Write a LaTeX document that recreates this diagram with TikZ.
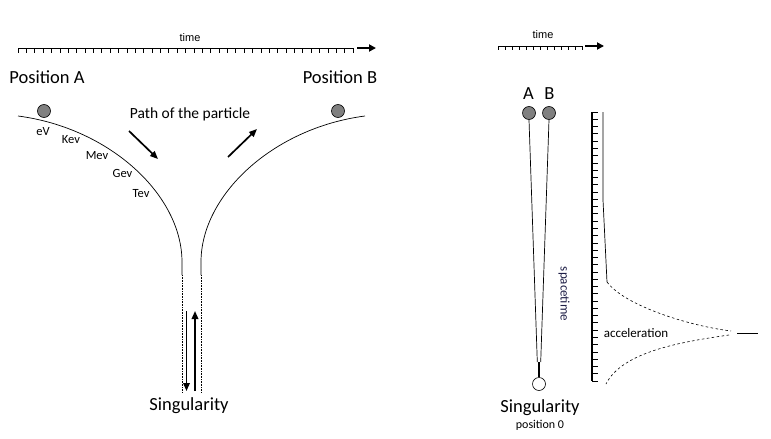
\documentclass[tikz,border=0pt]{standalone}
\usepackage{fontspec}
\setmainfont{Carlito}
\newfontfamily\arialf{Liberation Sans}
\usetikzlibrary{arrows.meta}
\definecolor{ballgray}{RGB}{128,128,128}
\definecolor{txtnavy}{RGB}{30,30,70}
\begin{document}
\begin{tikzpicture}[x=1pt,y=-1pt,
  big/.style={inner sep=0pt, font=\fontsize{18.5}{20}\selectfont},
  mid/.style={inner sep=0pt, font=\fontsize{15.5}{17}\selectfont},
  small/.style={inner sep=0pt, font=\fontsize{13}{15}\selectfont},
  tiny/.style={inner sep=0pt, font=\fontsize{12.5}{14}\selectfont},
  timelbl/.style={inner sep=0pt, font=\arialf\fontsize{11}{12}\selectfont},
  ball/.style={circle, draw, line width=0.6pt, fill=ballgray, minimum size=13pt, inner sep=0pt},
  wball/.style={circle, draw, line width=0.6pt, fill=white, minimum size=13pt, inner sep=0pt},
  fatarrow/.style={line width=1.7pt, -{Triangle[length=8pt,width=6.5pt]}},
  timearrow/.style={line width=2.6pt, -{Triangle[length=7pt,width=7pt]}},
  thin/.style={line width=0.7pt}]
\useasboundingbox (0,0) rectangle (771,439);
\fill[white] (0,0) rectangle (771,439);

% ---------- left part ----------
% timeline
\coordinate (tl0) at (18,48);
\coordinate (tl1) at (353,48);
\draw[thin] (tl0) -- (tl1);
\foreach \i in {0,...,40} {
  \draw[thin] (18+\i*8.375,48) -- (18+\i*8.375,52.5);
}
\coordinate (ta0) at (357,48);
\coordinate (ta1) at (376,48);
\draw[timearrow] (ta0) -- (ta1);
\node[timelbl] (time1) at (190,38) {time};

\node[big] (posA) at (47,77) {Position A};
\node[big] (posB) at (340,77) {Position B};

% curves
\coordinate (lc0) at (18,116);
\coordinate (lc1) at (182,262);
\coordinate (lc2) at (182,275);
\coordinate (lc3) at (182,392);
\draw[thin] (lc0) .. controls (110,128) and (182,195) .. (lc1) -- (lc2);
\draw[densely dotted, line width=0.6pt] (lc2) -- (lc3);
\coordinate (rc0) at (365,116);
\coordinate (rc1) at (201,262);
\coordinate (rc2) at (201,275);
\coordinate (rc3) at (201,392);
\draw[thin] (rc0) .. controls (273,128) and (201,195) .. (rc1) -- (rc2);
\draw[densely dotted, line width=0.6pt] (rc2) -- (rc3);

\node[ball] (ballA) at (44,111) {};
\node[ball] (ballB) at (338,111) {};

\node[tiny] (eV) at (43,132) {eV};
\node[tiny] (Kev) at (71,140) {Kev};
\node[tiny] (Mev) at (97,155.5) {Mev};
\node[tiny] (Gev) at (122.5,173) {Gev};
\node[tiny] (Tev) at (141,194) {Tev};

\node[mid] (path) at (190,114) {Path of the particle};
\coordinate (a1s) at (129,131);
\coordinate (a1e) at (158,159);
\draw[fatarrow] (a1s) -- (a1e);
\coordinate (a2s) at (228,157);
\coordinate (a2e) at (257,129);
\draw[fatarrow] (a2s) -- (a2e);

\coordinate (d1s) at (186.5,311);
\coordinate (d1e) at (186.5,391);
\draw[fatarrow] (d1s) -- (d1e);
\coordinate (u1s) at (195,391);
\coordinate (u1e) at (195,311);
\draw[fatarrow] (u1s) -- (u1e);

\node[big] (sing1) at (189,406) {Singularity};

% ---------- right part ----------
\coordinate (tr0) at (498,46);
\coordinate (tr1) at (582,46);
\draw[thin] (tr0) -- (tr1);
\foreach \i in {0,...,12} {
  \draw[thin] (498+\i*7,46) -- (498+\i*7,50);
}
\coordinate (tb0) at (585,46);
\coordinate (tb1) at (604,46);
\draw[timearrow] (tb0) -- (tb1);
\node[timelbl] (time2) at (543,35) {time};

\node[big] (lblA) at (528.5,94) {A};
\node[big] (lblB) at (549.5,94) {B};
\node[ball] (bA) at (529,113) {};
\node[ball] (bB) at (549,113) {};
\node[wball] (bS) at (539,384) {};

\coordinate (m1) at (537.3,362);
\coordinate (m2) at (540.7,362);
\coordinate (m3) at (539,362);
\draw[thin] (bA.south) -- (m1);
\draw[thin] (bB.south) -- (m2);
\draw[line width=1.8pt] (m3) -- (bS.north);

\node[small, rotate=-90, text=txtnavy] (spacetime) at (564,294) {spacetime};

\node[big] (sing2) at (540,408) {Singularity};
\node[inner sep=0pt, font=\fontsize{12}{14}\selectfont] (pos0) at (540,425) {position 0};

% ruler
\coordinate (r0) at (592,112);
\coordinate (r1) at (592,381);
\draw[line width=2pt] (r0) -- (r1);
\foreach \i in {0,...,37} {
  \draw[thin] (592,112+\i*7.27) -- (597.5,112+\i*7.27);
}

% acceleration curve
\coordinate (c0) at (603,112);
\coordinate (c1) at (603,200);
\coordinate (c2) at (607,282);
\coordinate (c3) at (731,331);
\coordinate (c4) at (737,333);
\coordinate (c5) at (758,333);
\coordinate (c6) at (729,335);
\coordinate (c7) at (606,384);
\draw[thin] (c0) -- (c1) -- (c2);
\draw[line width=0.6pt, dash pattern=on 2.5pt off 2.5pt] (c2) .. controls (625,306) and (690,326) .. (c3);
\draw[line width=0.6pt, dash pattern=on 2.5pt off 2.5pt] (c6) .. controls (680,342) and (622,352) .. (c7);
\draw[thin] (c4) -- (c5);
\node[small] (accel) at (636,333) {acceleration};
\end{tikzpicture}
\end{document}
